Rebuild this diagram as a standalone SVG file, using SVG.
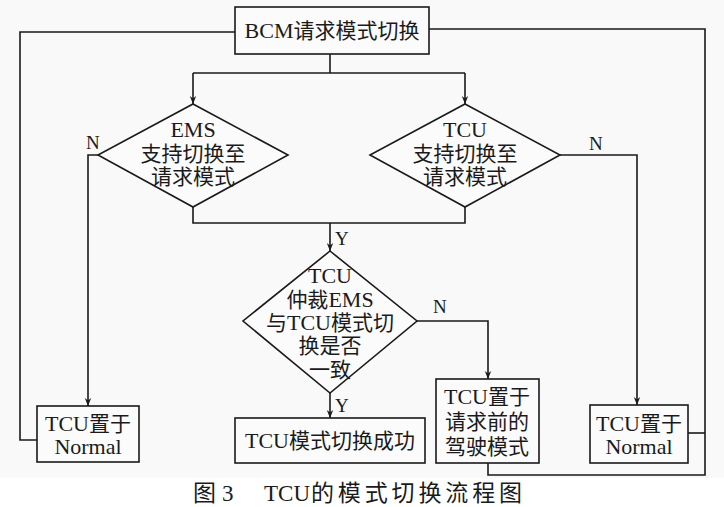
<svg xmlns="http://www.w3.org/2000/svg" width="724" height="507" viewBox="0 0 724 507">
<style>
.s{fill:none;stroke:#1a1a1a;stroke-width:1.6}
.b{fill:#fbfbfb;stroke:#1a1a1a;stroke-width:1.6}
.t{font-family:"Noto Sans CJK SC","Liberation Serif",serif;font-size:21px;fill:#1a1a1a;text-anchor:middle}
.r{font-family:"Liberation Serif",serif;font-size:22px}
.l{font-family:"Liberation Serif",serif;font-size:19px;fill:#1a1a1a}
.c{font-family:"Noto Sans CJK SC","Liberation Serif",serif;font-size:23px;fill:#1a1a1a}
.cr{font-family:"Liberation Serif",serif;font-size:23px;fill:#1a1a1a}
</style>
<defs>
<marker id="d" markerWidth="8" markerHeight="10" refX="10" refY="4" orient="auto" markerUnits="userSpaceOnUse" viewBox="0 0 10 8">
<path d="M0,0 L10,4 L0,8 L3,4 Z" fill="#1a1a1a"/>
</marker>
</defs>
<rect x="0" y="0" width="724" height="478" fill="#f9f9f9"/>
<rect x="0" y="478" width="724" height="29" fill="#ffffff"/>
<g id="connectors">
<path class="s" d="M330,54 V73"/>
<path class="s" d="M193,73 H465"/>
<path class="s" d="M193,73 V104" marker-end="url(#d)"/>
<path class="s" d="M465,73 V104" marker-end="url(#d)"/>
<path class="s" d="M193,207 V223 H465 V207"/>
<path class="s" d="M330,223 V251" marker-end="url(#d)"/>
<path class="s" d="M98,155 H88 V406" marker-end="url(#d)"/>
<path class="s" d="M560,155 H637 V405" marker-end="url(#d)"/>
<path class="s" d="M417,321 H488 V379" marker-end="url(#d)"/>
<path class="s" d="M330,393 V418" marker-end="url(#d)"/>
<path class="s" d="M235,32 H20 V440 H37"/>
<path class="s" d="M429,29 H705 V475 H488 V463"/>
<path class="s" d="M688,433 H705"/>
<text class="l" x="86" y="149">N</text>
<text class="l" x="589" y="150">N</text>
<text class="l" x="335" y="245">Y</text>
<text class="l" x="433" y="313">N</text>
<text class="l" x="335" y="412">Y</text>
</g>
<g id="bcm">
<rect class="b" x="235" y="7" width="194" height="47"/>
<text class="t" x="332" y="38"><tspan class="r">BCM</tspan>请求模式切换</text>
</g>
<g id="ems">
<path class="b" d="M193,104 L288,155 L193,207 L98,155 Z"/>
<text class="t" x="193" y="137"><tspan class="r">EMS</tspan></text>
<text class="t" x="193" y="161">支持切换至</text>
<text class="t" x="193" y="184">请求模式</text>
</g>
<g id="tcu">
<path class="b" d="M465,104 L560,155 L465,207 L370,155 Z"/>
<text class="t" x="465" y="137"><tspan class="r">TCU</tspan></text>
<text class="t" x="465" y="161">支持切换至</text>
<text class="t" x="465" y="184">请求模式</text>
</g>
<g id="arb">
<path class="b" d="M330,251 L417,321 L330,393 L243,321 Z"/>
<text class="t" x="330" y="283"><tspan class="r">TCU</tspan></text>
<text class="t" x="330" y="307">仲裁<tspan class="r">EMS</tspan></text>
<text class="t" x="330" y="330">与<tspan class="r">TCU</tspan>模式切</text>
<text class="t" x="330" y="353">换是否</text>
<text class="t" x="330" y="377">一致</text>
</g>
<g id="normalL">
<rect class="b" x="37" y="406" width="102" height="56"/>
<text class="t" x="88" y="431"><tspan class="r">TCU</tspan>置于</text>
<text class="t" x="88" y="454"><tspan class="r">Normal</tspan></text>
</g>
<g id="success">
<rect class="b" x="235" y="418" width="190" height="45"/>
<text class="t" x="330" y="448"><tspan class="r">TCU</tspan>模式切换成功</text>
</g>
<g id="prev">
<rect class="b" x="436" y="379" width="103" height="84"/>
<text class="t" x="487" y="404"><tspan class="r">TCU</tspan>置于</text>
<text class="t" x="487" y="429">请求前的</text>
<text class="t" x="487" y="454">驾驶模式</text>
</g>
<g id="normalR">
<rect class="b" x="590" y="405" width="98" height="58"/>
<text class="t" x="639" y="431"><tspan class="r">TCU</tspan>置于</text>
<text class="t" x="639" y="454"><tspan class="r">Normal</tspan></text>
</g>
<g id="caption">
<text class="c" x="193" y="501">图</text>
<text class="cr" x="222" y="501">3</text>
<text class="cr" x="264" y="501">TCU</text>
<text class="c" x="311" y="501" textLength="211" lengthAdjust="spacing">的模式切换流程图</text>
</g>
</svg>
